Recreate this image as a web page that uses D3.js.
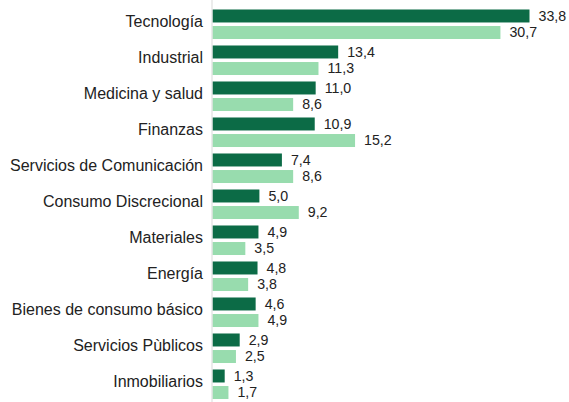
<!DOCTYPE html>
<html>
<head>
<meta charset="utf-8">
<script src="https://cdn.jsdelivr.net/npm/d3@7"></script>
<style>
  body { margin: 0; background: #fff; }
  svg { display: block; font-family: "Liberation Sans", Arial, sans-serif; }
</style>
</head>
<body>
<svg id="chart"></svg>
<script>
// sectors, top to bottom
const categories = ["Tecnología", "Industrial", "Medicina y salud", "Finanzas",
  "Servicios de Comunicación", "Consumo Discrecional", "Materiales", "Energía",
  "Bienes de consumo básico", "Servicios Pùblicos", "Inmobiliarios"];
const seriesA = [33.8, 13.4, 11.0, 10.9, 7.4, 5.0, 4.9, 4.8, 4.6, 2.9, 1.3];
const seriesB = [30.7, 11.3, 8.6, 15.2, 8.6, 9.2, 3.5, 3.8, 4.9, 2.5, 1.7];
const seriesKeys = ["a", "b"];
const colors = { a: "#0c6b46", b: "#98dcae" };

const width = 569, height = 402;
const x0 = 212.5;

const svg = d3.select("#chart")
  .attr("width", width)
  .attr("height", height);

const data = categories.map((c, i) => ({ cat: c, a: seriesA[i], b: seriesB[i] }));

const xScale = d3.scaleLinear()
  .domain([0, 33.8])
  .range([x0, 529.5]);

const yScale = d3.scaleBand()
  .domain(categories)
  .range([6.25, 402.25])
  .paddingInner(0.18)
  .paddingOuter(0.09);

const ySub = d3.scaleBand()
  .domain(seriesKeys)
  .range([0, yScale.bandwidth()])
  .paddingInner(0.215);

const fmt = v => d3.format(".1f")(v).replace(".", ",");

const groups = svg.selectAll("g.row")
  .data(data)
  .join("g")
  .attr("class", "row")
  .attr("transform", d => `translate(0,${yScale(d.cat)})`);

groups.selectAll("rect")
  .data(d => seriesKeys.map(k => ({ key: k, value: d[k] })))
  .join("rect")
  .attr("x", xScale(0))
  .attr("y", d => ySub(d.key))
  .attr("width", d => xScale(d.value) - xScale(0))
  .attr("height", ySub.bandwidth())
  .attr("fill", d => colors[d.key]);

groups.selectAll("text.val")
  .data(d => seriesKeys.map(k => ({ key: k, value: d[k] })))
  .join("text")
  .attr("class", "val")
  .attr("x", d => xScale(d.value) + 9)
  .attr("y", d => ySub(d.key) + ySub.bandwidth() / 2)
  .attr("dy", "0.35em")
  .attr("font-size", 14.2)
  .attr("fill", "#222")
  .text(d => fmt(d.value));

// category labels
groups.append("text")
  .attr("x", 203)
  .attr("y", yScale.bandwidth() / 2 - 3)
  .attr("dy", "0.35em")
  .attr("text-anchor", "end")
  .attr("font-size", 16)
  .attr("fill", "#222")
  .text(d => d.cat);

// baseline
svg.append("line")
  .attr("x1", xScale(0) - 0.5)
  .attr("x2", xScale(0) - 0.5)
  .attr("y1", 0)
  .attr("y2", height)
  .attr("stroke", "#d9d9d9")
  .attr("stroke-width", 1);
</script>
</body>
</html>
